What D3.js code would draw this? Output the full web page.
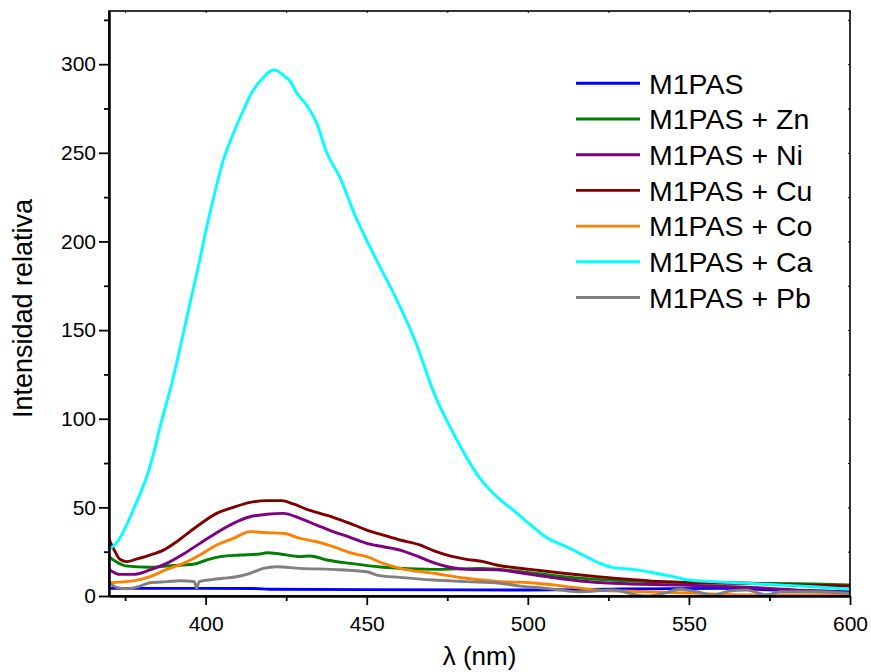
<!DOCTYPE html>
<html><head><meta charset="utf-8">
<script src="https://cdn.jsdelivr.net/npm/d3@7/dist/d3.min.js"></script>
<style>body{margin:0;background:#fff}svg{display:block}text{font-family:"Liberation Sans",Arial,sans-serif;fill:#000}</style>
</head><body><svg id="c" width="871" height="672"></svg>
<script>
const seriesNames = ["M1PAS","M1PAS + Zn","M1PAS + Ni","M1PAS + Cu","M1PAS + Co","M1PAS + Ca","M1PAS + Pb"];
const seriesColors = ["#0000ff","#008000","#800080","#800000","#ff8000","#00ffff","#808080"];

const m1pasX = [370,400,415,420,450,500,530,560,580,600];
const m1pasY = [4.3,4.3,4.2,3.8,3.6,3.4,4.0,4.3,3.2,2.4];

const znX = [370,372.5,375,382.7,387.9,393.1,396.2,400.3,404.5,410.7,416.9,419,423.1,429.3,432.4,437.6,444.8,455.1,470.7,485,491.3,500.7,511,521.4,531.7,547.2,567.9,588.6,600];
const znY = [22,19,17,16.2,16.9,17.5,17.9,20.3,22.2,23.1,23.7,24.4,23.7,22.2,22.6,20.3,18.4,16.2,15,15.6,15,13.1,10.9,9.4,8.5,7.7,7.2,6.8,6.2];

const niX = [370,373.4,377.5,382.7,387.9,393.1,398.2,403.4,408.6,413.8,419,424.1,429.3,434.5,439.6,444.8,450,455.1,460.3,465.5,470.7,475.8,481,491.3,495.5,505.8,516.2,526.5,547.2,567.9,588.6,600];
const niY = [15,12.2,12.2,14.7,18.4,23.7,29.7,35.7,41,44.7,46.1,46.6,43.8,40,36.3,33.1,29.7,27.8,25.9,22.6,18.8,16.2,15,14.7,13.7,10.9,8.5,7.2,6.2,4.9,3,2.4];

const cuX = [370,371.9,373.4,375.5,378.6,382.7,386.9,391,395.1,399.3,403.4,408.6,413.8,419,423.6,427.2,431.4,435.5,439.6,444.8,450,455.1,460.3,466.5,470.7,475.8,481,486.2,490.3,495,500.7,511,521.4,531.7,542,552.4,567.9,583.4,600];
const cuY = [32,25,20.7,19.4,20.9,23.1,25.9,30.6,36.3,41.9,46.6,50,52.8,53.8,53.8,51.9,48.9,46.6,44.4,41,37.2,34.4,31.6,28.8,25.6,22.6,20.7,19.4,17.5,16.2,15,12.8,10.9,9.4,8.1,7.5,7.2,6.2,5.6];

const coX = [370,377.5,382.7,387.9,393.1,398.2,403.4,408.6,413.8,419,424.1,429.3,434.5,439.6,444.8,450,455.1,460.3,470.7,481,491.3,500.7,511,521.4,536.9,552.4,567.9,583,600];
const coY = [7.5,8.5,10.9,15,18.4,23.1,28.8,32.5,36.3,35.7,35.4,32.5,30.6,27.8,24.4,22.2,18.4,15.6,12.8,10,8.1,7.5,5.6,3.4,2.4,1.5,0.6,0.6,1];

const caX = [370,373,377.5,382.7,386.4,389.5,392.6,395.1,397.7,400.3,402.9,405.5,408.6,411.7,414.3,417.4,421,422.5,424.6,426.2,428.2,431.3,434.5,437.6,441.7,446.3,452.6,458.8,465,471.2,477.4,485.1,491.3,495.5,499.6,505.8,512,517.2,522.4,526.5,532.7,538.9,545.1,549.8,557.5,567.9,578.3,588.6,600];
const caY = [26,31.6,48.5,72.9,99.3,120,144.4,165,185.7,208,228,246,261,274,284,291.5,296.7,296,293,290.5,284,277,266.6,250,236,215,191,169,144,113,90,66.5,54.5,48.5,42,33,27.8,23.1,18.4,16,15,13.1,10.9,9,8.1,7.2,6.2,5.2,3.8];

const pbX = [370,372.4,375.5,379.6,382.7,387.9,392,396.5,397.2,398,402.4,405.5,410.7,413.8,417.9,422,429.3,439.6,450,453.1,460.3,470.7,481,491.3,497.6,505.8,516.2,526.5,531.7,536.9,542,547.2,552.4,557.5,562.7,567.9,574,578.3,590,600];
const pbY = [7.2,4.9,4.1,5.6,7.5,8.1,8.6,8.1,4.3,8.1,9.4,10,11.3,12.8,15.6,16.5,15.6,15,13.7,11.8,10.5,9,8.1,7.2,5.6,4.3,2.4,3.4,1.5,0,1.5,3.8,2.4,0.6,2.8,3.4,0.6,2.4,2.4,1.5];

const xTicks = [400,450,500,550,600];
const xMinor = [375,425,475,525,575];
const yTicks = [0,50,100,150,200,250,300];
const yMinor = [25,75,125,175,225,275,325];

const seriesX = [m1pasX,znX,niX,cuX,coX,caX,pbX];
const seriesY = [m1pasY,znY,niY,cuY,coY,caY,pbY];

const L=109, R=850, T=11, B=596;
const svg = d3.select("#c");
const x = d3.scaleLinear().domain([370,600]).range([L,R]);
const y = d3.scaleLinear().domain([0,330]).range([B,T]);

svg.append("clipPath").attr("id","clip").append("rect").attr("x",L).attr("y",T).attr("width",R-L).attr("height",B-T);

const line = d3.line().x(d=>x(d[0])).y(d=>y(d[1])).curve(d3.curveMonotoneX);
const g = svg.append("g").attr("clip-path","url(#clip)");
seriesX.forEach((xs,i)=>{
  const pts = xs.map((v,j)=>[v,seriesY[i][j]]);
  g.append("path").datum(pts).attr("d",line).attr("fill","none")
   .attr("stroke",seriesColors[i]).attr("stroke-width",2.9).attr("stroke-linejoin","round");
});

// frame
svg.append("rect").attr("x",L).attr("y",T).attr("width",R-L).attr("height",B-T)
  .attr("fill","none").attr("stroke","#000").attr("stroke-width",1.6);

// bottom axis
const xa = svg.append("g").attr("transform",`translate(0,${B})`);
xa.call(d3.axisBottom(x).tickValues(xTicks).tickSize(9).tickSizeOuter(0).tickFormat(d3.format("d")));
xa.append("g").call(d3.axisBottom(x).tickValues(xMinor).tickSize(5).tickSizeOuter(0).tickFormat(""));
xa.selectAll(".domain").attr("stroke-width",2);
xa.selectAll(".tick line").attr("stroke-width",1.8);
xa.selectAll(".tick text").attr("font-size",21).attr("dy","1.1em").attr("font-family","Liberation Sans, Arial, sans-serif");

// left axis
const ya = svg.append("g").attr("transform",`translate(${L},0)`);
ya.call(d3.axisLeft(y).tickValues(yTicks).tickSize(10).tickSizeOuter(0).tickFormat(d3.format("d")));
ya.append("g").call(d3.axisLeft(y).tickValues(yMinor).tickSize(5).tickSizeOuter(0).tickFormat(""));
ya.selectAll(".domain").attr("stroke-width",2);
ya.selectAll(".tick line").attr("stroke-width",1.8);
ya.selectAll(".tick text").attr("font-size",21).attr("x",-13).attr("font-family","Liberation Sans, Arial, sans-serif");

// top & right small inward ticks
const ta = svg.append("g").attr("transform",`translate(0,${T})`);
ta.call(d3.axisTop(x).tickValues(xTicks.concat(xMinor)).tickSize(-2).tickSizeOuter(0).tickFormat(""));
const ra = svg.append("g").attr("transform",`translate(${R},0)`);
ra.call(d3.axisRight(y).tickValues(yTicks.concat(yMinor)).tickSize(-2).tickSizeOuter(0).tickFormat(""));
ta.selectAll(".domain").remove(); ra.selectAll(".domain").remove();

// axis titles
svg.append("text").attr("x",(L+R)/2).attr("y",665).attr("text-anchor","middle")
  .attr("font-size",26).text("λ (nm)");
svg.append("text").attr("transform",`translate(32,${(T+B)/2+5}) rotate(-90)`).attr("text-anchor","middle")
  .attr("font-size",27).text("Intensidad relativa");

// legend
const lg = svg.append("g");
seriesNames.forEach((n,i)=>{
  const yy = 83.3 + i*35.7;
  lg.append("line").attr("x1",576).attr("x2",640).attr("y1",yy).attr("y2",yy)
    .attr("stroke",seriesColors[i]).attr("stroke-width",2.9);
  lg.append("text").attr("x",649).attr("y",yy).attr("dy","0.36em").attr("font-size",28.5).text(n);
});
</script></body></html>
